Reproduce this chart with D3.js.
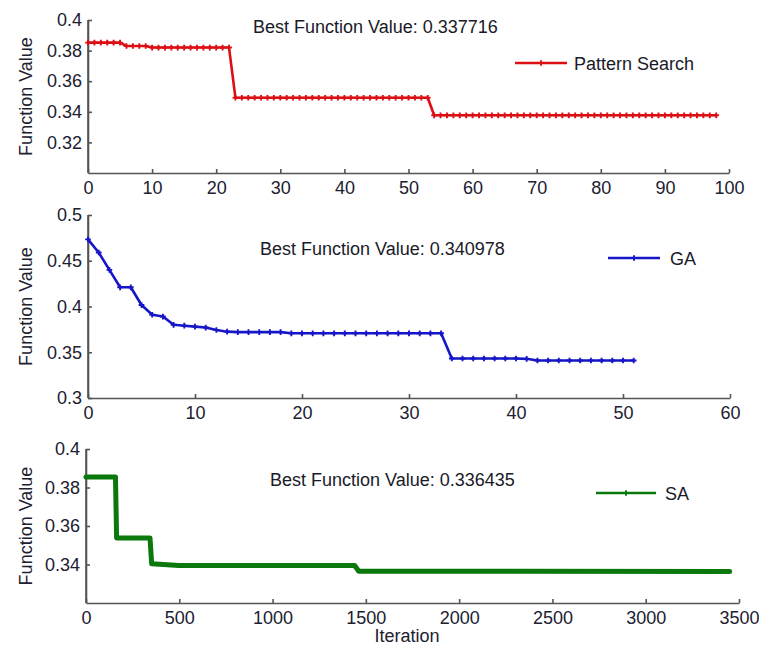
<!DOCTYPE html>
<html>
<head>
<meta charset="utf-8">
<script src="https://cdn.jsdelivr.net/npm/d3@7"></script>
<style>
  body { margin: 0; background: #fff; }
  svg { display: block; font-family: "Liberation Sans", Arial, sans-serif; }
  .axis path, .axis line { stroke: #555; stroke-width: 1.6; }
  .axis text { font-size: 18px; fill: #202030; }
</style>
</head>
<body>
<svg id="chart" width="759" height="645"></svg>
<script>
/*
Three stacked convergence plots: Pattern Search, GA, SA
*/

// Pattern Search: one point per iteration 0..98
const psIter = d3.range(0, 99);
const psValue = psIter.map((i) =>
  i <= 5 ? 0.3852 : i <= 9 ? 0.383 : i <= 22 ? 0.382 : i <= 53 ? 0.3492 : 0.3377,
);

// GA: one point per generation 0..51
const gaIter = d3.range(0, 52);
const gaValue = [
  0.4734, 0.459, 0.44, 0.421, 0.421, 0.4016, 0.391, 0.389, 0.38, 0.379,
  0.378, 0.377, 0.3743, 0.3725, 0.372, 0.372, 0.372, 0.372, 0.372, 0.3707,
  0.3707, 0.3707, 0.3707, 0.3707, 0.3707, 0.3707, 0.3707, 0.3707, 0.3707, 0.3707,
  0.3707, 0.3707, 0.3707, 0.3707, 0.3432, 0.3432, 0.3432, 0.3432, 0.3432, 0.3432,
  0.3432, 0.3428, 0.341, 0.341, 0.341, 0.341, 0.341, 0.341, 0.341, 0.341,
  0.341, 0.341,
];

// SA: breakpoints of the best-so-far curve
const saIter = [0, 158, 164, 343, 352, 498, 1440, 1462, 3450];
const saValue = [0.3855, 0.3855, 0.3538, 0.3538, 0.3404, 0.3395, 0.3395, 0.3365, 0.3364];

const titles = [
  "Best Function Value: 0.337716",
  "Best Function Value: 0.340978",
  "Best Function Value: 0.336435",
];
const legendNames = ["Pattern Search", "GA", "SA"];

const psXTicks = d3.range(0, 101, 10);
const psYTicks = [0.32, 0.34, 0.36, 0.38, 0.4];
const gaXTicks = d3.range(0, 61, 10);
const gaYTicks = [0.3, 0.35, 0.4, 0.45, 0.5];
const saXTicks = d3.range(0, 3501, 500);
const saYTicks = [0.34, 0.36, 0.38, 0.4];

const panels = [
  {
    x: psIter, y: psValue, xDomain: [0, 100], yDomain: [0.3, 0.4],
    xTicks: psXTicks, yTicks: psYTicks,
    left: 88, right: 729, top: 20, bottom: 173,
    color: "#dc0f14", width: 2.6, markers: true,
    title: titles[0], titleX: 253, titleY: 27,
    legend: legendNames[0], legX: 515, legY: 63,
  },
  {
    x: gaIter, y: gaValue, xDomain: [0, 60], yDomain: [0.3, 0.5],
    xTicks: gaXTicks, yTicks: gaYTicks,
    left: 88, right: 730, top: 215, bottom: 398,
    color: "#1616c8", width: 2.6, markers: true,
    title: titles[1], titleX: 260, titleY: 249,
    legend: legendNames[1], legX: 608, legY: 258,
  },
  {
    x: saIter, y: saValue, xDomain: [0, 3500], yDomain: [0.32, 0.4],
    xTicks: saXTicks, yTicks: saYTicks,
    left: 86, right: 739, top: 449, bottom: 603,
    color: "#0b780b", width: 5, markers: false,
    title: titles[2], titleX: 270, titleY: 480,
    legend: legendNames[2], legX: 596, legY: 493,
  },
];

const svg = d3.select("#chart");
const fmt = (d) => String(+d.toFixed(2));

panels.forEach((p) => {
  const x = d3.scaleLinear().domain(p.xDomain).range([p.left, p.right]);
  const y = d3.scaleLinear().domain(p.yDomain).range([p.bottom, p.top]);

  // Axes with inward ticks (MATLAB style, no box)
  svg.append("g")
    .attr("class", "axis")
    .attr("transform", `translate(0,${p.bottom})`)
    .call(d3.axisBottom(x).tickValues(p.xTicks).tickSizeInner(-4).tickSizeOuter(0).tickPadding(8).tickFormat(d3.format("d")));

  svg.append("g")
    .attr("class", "axis")
    .attr("transform", `translate(${p.left},0)`)
    .call(d3.axisLeft(y).tickValues(p.yTicks).tickSizeInner(-4).tickSizeOuter(0).tickPadding(6).tickFormat(fmt));

  // y axis line must reach the top of the domain
  svg.append("line")
    .attr("x1", p.left).attr("x2", p.left)
    .attr("y1", p.top).attr("y2", p.bottom)
    .attr("stroke", "#555").attr("stroke-width", 1.6);

  const pts = d3.zip(p.x, p.y);
  const line = d3.line().x((d) => x(d[0])).y((d) => y(d[1]));

  svg.append("path")
    .datum(pts)
    .attr("fill", "none")
    .attr("stroke", p.color)
    .attr("stroke-width", p.width)
    .attr("stroke-linejoin", "round")
    .attr("stroke-linecap", "round")
    .attr("d", line);

  if (p.markers) {
    const plus = d3.symbol().type(d3.symbolCross).size(18);
    svg.append("g")
      .selectAll("path")
      .data(pts)
      .join("path")
      .attr("transform", (d) => `translate(${x(d[0])},${y(d[1])})`)
      .attr("d", plus)
      .attr("fill", p.color);
  }

  // y label
  svg.append("text")
    .attr("transform", `translate(26,${(p.top + p.bottom) / 2}) rotate(-90)`)
    .attr("text-anchor", "middle")
    .attr("dominant-baseline", "central")
    .attr("font-size", 18)
    .attr("fill", "#202030")
    .text("Function Value");

  // title
  svg.append("text")
    .attr("x", p.titleX).attr("y", p.titleY)
    .attr("dominant-baseline", "central")
    .attr("font-size", 18)
    .attr("fill", "#1a1a28")
    .text(p.title);

  // legend
  const lg = svg.append("g").attr("transform", `translate(${p.legX},${p.legY})`);
  lg.append("line")
    .attr("x1", 0).attr("x2", p.legend === "SA" ? 60 : 52)
    .attr("stroke", p.color).attr("stroke-width", 2.6);
  lg.append("path")
    .attr("transform", `translate(${p.legend === "SA" ? 30 : 26},0)`)
    .attr("d", d3.symbol().type(d3.symbolCross).size(18))
    .attr("fill", p.color);
  lg.append("text")
    .attr("x", p.legend === "SA" ? 69 : p.legend === "GA" ? 62 : 59)
    .attr("y", 1)
    .attr("dominant-baseline", "central")
    .attr("font-size", 18)
    .attr("fill", "#1a1a28")
    .text(p.legend);
});

svg.append("text")
  .attr("x", 407).attr("y", 636)
  .attr("text-anchor", "middle")
  .attr("dominant-baseline", "central")
  .attr("font-size", 18)
  .attr("fill", "#202030")
  .text("Iteration");
</script>
</body>
</html>
